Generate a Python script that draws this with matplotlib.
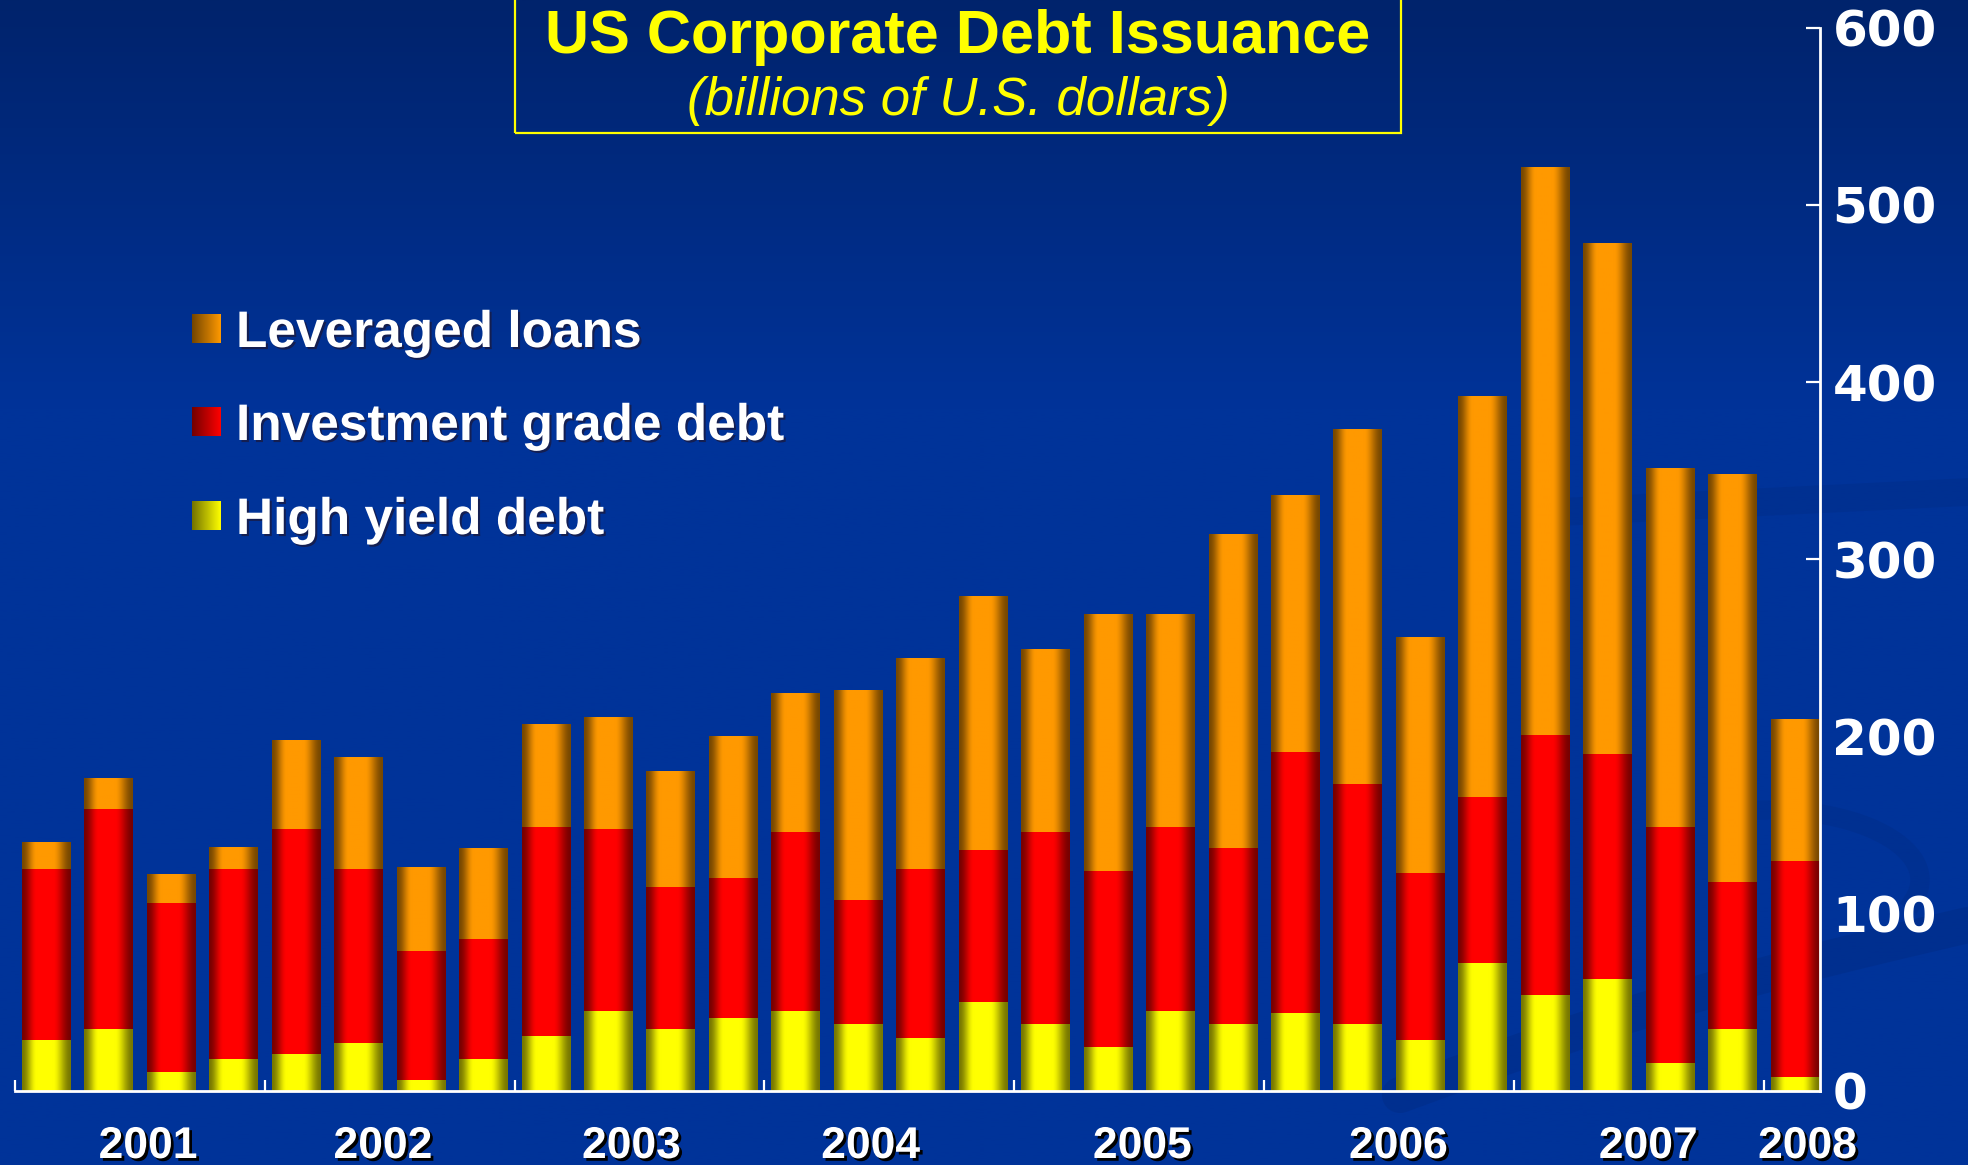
import numpy as np
import matplotlib.pyplot as plt
import matplotlib.patheffects as pe
from matplotlib.patches import Rectangle
from matplotlib.colors import to_rgb

# Quarterly issuance, billions of US dollars (2001 Q1 .. 2008 Q1)
years = ["2001", "2002", "2003", "2004", "2005", "2006", "2007", "2008"]
high_yield = [29, 35, 11, 18, 21, 27, 6, 18, 31, 45, 35, 41, 45, 38, 30,
              50, 38, 25, 45, 38, 44, 38, 29, 72, 54, 63, 16, 35, 8]
investment_grade = [96, 124, 95, 107, 127, 98, 73, 68, 118, 103, 80, 79,
                    101, 70, 95, 86, 108, 99, 104, 99, 147, 135, 94, 94,
                    147, 127, 133, 83, 122]
leveraged_loans = [15, 17, 16, 12, 50, 63, 47, 51, 58, 63, 65, 80, 78, 118,
                   119, 143, 103, 145, 120, 177, 145, 200, 133, 226, 320,
                   288, 202, 230, 80]
legend_labels = ["Leveraged loans", "Investment grade debt", "High yield debt"]

W, H = 1968, 1165
BG_TOP = "#00236c"
BG_MID = "#003399"
ORANGE, RED, YELLOW = "#ff9900", "#ff0000", "#ffff00"
FONT = ["Liberation Sans", "DejaVu Sans"]

fig = plt.figure(figsize=(W / 100, H / 100), dpi=100)

# backdrop: vertical blue gradient with a faint swoosh on the right
bg = fig.add_axes([0, 0, 1, 1], zorder=-10)
t = np.clip(np.linspace(0, 1, 400) / 0.35, 0, 1)[:, None]
top, mid = np.array(to_rgb(BG_TOP)), np.array(to_rgb(BG_MID))
grad = top[None, None, :] * (1 - t[..., None]) + mid[None, None, :] * t[..., None]
bg.imshow(np.repeat(grad, 2, axis=1), extent=[0, W, H, 0], aspect="auto")
sw = "#002a80"
u = np.linspace(0, 1, 100)
bg.plot(1400 + 568 * u, 1095 - 170 * u - 12 * np.sin(u * np.pi), color=sw, lw=26, alpha=0.4, solid_capstyle="round")
bg.plot(1560 + 408 * u, 512 - 20 * u, color=sw, lw=20, alpha=0.3, solid_capstyle="round")
th = np.linspace(-0.3, 1.6, 100)
bg.plot(1770 + 150 * np.cos(th), 880 - 70 * np.sin(th), color=sw, lw=14, alpha=0.3)
bg.set_xlim(0, W)
bg.set_ylim(H, 0)
bg.axis("off")

ax = fig.add_axes([15 / W, 74 / H, 1805 / W, 1063.4 / H])
ax.set_facecolor("none")

x = np.arange(len(high_yield))
hy = np.array(high_yield)
ig = np.array(investment_grade)
ll = np.array(leveraged_loans)
width = 0.78


def shade(color, n=96):
    # cylinder-like shading: dark at both edges, brightest left of centre
    u = np.linspace(0, 1, n)
    s = np.where(u < 0.45, u / 0.45, (1 - u) / 0.55)
    s = np.clip(s * 1.5, 0, 1)
    f = 0.47 + 0.53 * (3 * s ** 2 - 2 * s ** 3)
    return (np.array(to_rgb(color))[None, :] * f[:, None])[None, :, :]


stacks = [(hy, 0, YELLOW), (ig, hy, RED), (ll, hy + ig, ORANGE)]
for vals, base, color in stacks:
    bars = ax.bar(x, vals, width, bottom=base, color=color, linewidth=0, zorder=2)
    img = shade(color)
    for p in bars.patches:
        ax.imshow(img, extent=[p.get_x(), p.get_x() + p.get_width(),
                               p.get_y(), p.get_y() + p.get_height()],
                  aspect="auto", interpolation="bilinear", zorder=3)

ax.set_xlim(-0.5, 28.4)
ax.set_ylim(0, 600)
for side in ["left", "top"]:
    ax.spines[side].set_visible(False)
for side in ["right", "bottom"]:
    ax.spines[side].set_color("white")
    ax.spines[side].set_linewidth(2)
    ax.spines[side].set_zorder(5)

ax.yaxis.tick_right()
ax.set_yticks(np.arange(0, 601, 100))
ax.tick_params(axis="y", direction="in", length=10, width=1.6, colors="white",
               pad=9, labelsize=36)
for lab in ax.get_yticklabels():
    lab.set_fontfamily(["DejaVu Sans"])
    lab.set_fontweight("bold")

ax.set_xticks(np.arange(-0.5, 28, 4))
ax.tick_params(axis="x", direction="in", length=8, width=1.6, colors="white",
               labelbottom=False)

# year labels under each group of quarters
year_pos = [1.63, 5.39, 9.37, 13.2, 17.55, 21.65, 25.65, 28.2]
for yr, xp in zip(years, year_pos):
    ax.text(xp, -0.063, yr, transform=ax.get_xaxis_transform(), ha="center",
            va="baseline", color="white", fontsize=32, fontweight="bold",
            family=FONT, clip_on=False,
            path_effects=[pe.withSimplePatchShadow(offset=(2, -2),
                                                   shadow_rgbFace="black",
                                                   alpha=1.0)])

# legend with shaded swatches
legend_colors = [ORANGE, RED, YELLOW]
sq_tops = [314, 407, 501]
for label, color, top_px in zip(legend_labels, legend_colors, sq_tops):
    sq = fig.add_axes([191.5 / W, 1 - (top_px + 29) / H, 28.5 / W, 29 / H])
    ramp = np.linspace(0.45, 1, 64)
    sq.imshow((np.array(to_rgb(color))[None, :] * ramp[:, None])[None, :, :],
              aspect="auto", interpolation="bilinear")
    sq.axis("off")
    fig.text(236 / W, 1 - (top_px + 33) / H, label, color="white",
             fontsize=37, fontweight="bold", family=FONT, va="baseline",
             path_effects=[pe.withSimplePatchShadow(offset=(1.5, -1.5),
                                                    shadow_rgbFace="#1a1a40",
                                                    alpha=0.8)])

# title block
fig.patches.append(Rectangle((515 / W, 1 - 133 / H), 886 / W, 0.3,
                             transform=fig.transFigure, fill=False,
                             edgecolor=YELLOW, linewidth=1.6))
fig.text(958 / W, 1 - 53 / H, "US Corporate Debt Issuance", ha="center",
         va="baseline", color=YELLOW, fontsize=44, fontweight="bold", family=FONT)
fig.text(958 / W, 1 - 115 / H, "(billions of U.S. dollars)", ha="center",
         va="baseline", color=YELLOW, fontsize=38, style="italic", family=FONT)

fig.savefig("out.png", dpi=100)
